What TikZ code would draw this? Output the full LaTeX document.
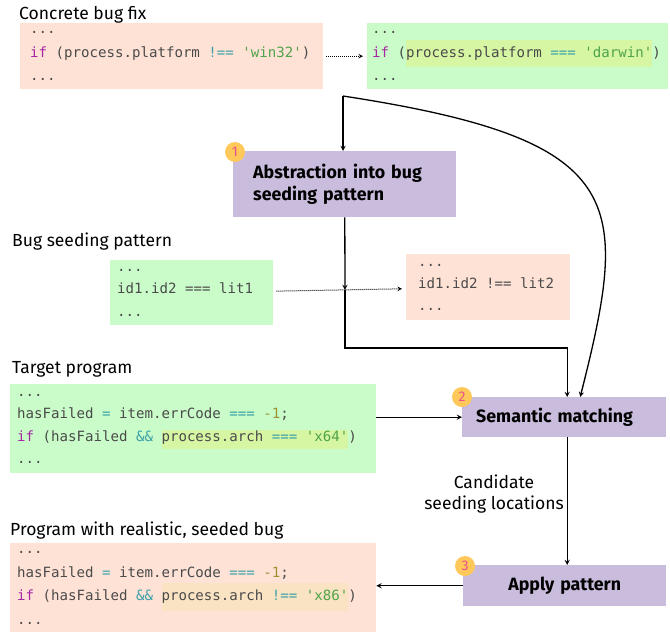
\documentclass[tikz,border=0pt]{standalone}
\usepackage{fontspec}
\setmainfont{Fira Sans}
\setmonofont{DejaVu Sans Mono}
\usetikzlibrary{arrows,positioning}
\definecolor{bugsalmon}{HTML}{FFE2D6}
\definecolor{fixgreen}{HTML}{C9FCC8}
\definecolor{stepviolet}{HTML}{C9BCDC}
\definecolor{hlgreen}{HTML}{D6F6A4}
\definecolor{hlorange}{HTML}{FAE3C2}
\definecolor{badgeorange}{HTML}{FFC85A}
\definecolor{badgepink}{HTML}{F0508A}
\definecolor{codegray}{HTML}{4A4A4A}
\definecolor{kwpurple}{HTML}{A626A4}
\definecolor{opteal}{HTML}{3AA0A8}
\definecolor{strgreen}{HTML}{4FA34A}
\definecolor{numolive}{HTML}{9A9234}
\newcommand\ckw[1]{\textcolor{kwpurple}{#1}}
\newcommand\cop[1]{\textcolor{opteal}{#1}}
\newcommand\cstr[1]{\textcolor{strgreen}{#1}}
\newcommand\cnum[1]{\textcolor{numolive}{#1}}
\newcommand\codespace{\spaceskip 8.5pt\relax\xspaceskip 8.5pt\relax}
% colour, height above baseline, depth below baseline, code
\newcommand\hlcode[4]{\smash{\setlength\fboxsep{0pt}\colorbox{#1}{\rule[-#3]{0pt}{\dimexpr#2+#3\relax}#4}}}
\tikzset
{
    codebox/.style  = {rectangle, anchor=north west, align=flush left, inner ysep=0pt, text=codegray, font=\ttfamily\fontsize{14.1}{#1}\selectfont, execute at begin node=\codespace},
    codebox/.default = 23.5,
    stepbox/.style  = {rectangle, fill=stepviolet, anchor=north west, inner ysep=0pt, font=\bfseries\fontsize{17.8}{22}\selectfont},
    badge/.style    = {circle, fill=badgeorange, text=badgepink, minimum size=20pt, inner sep=0pt, font=\fontsize{14}{14}\selectfont},
    caption/.style  = {anchor=base west, inner sep=0pt, font=\fontsize{17.5}{20}\selectfont},
    arrow/.style    = {->, >=stealth, line width=1.3pt},
    dotarrow/.style = {->, >=stealth, densely dotted, line width=1pt, shorten <=3pt, shorten >=4pt},
}

\begin{document}
\begin{tikzpicture}[x=1pt, y=-1pt]
   \useasboundingbox (0,0) rectangle (670,632);

   % concrete fix
   \node (fixlbl) [caption]                                   at (19,19)    {Concrete bug fix};
   \node (buggy)  [codebox, fill=bugsalmon, inner xsep=10pt, text width=283pt, minimum height=66pt] at (20,23)
      {...\\ \ckw{if} (process.platform \cop{!==} \cstr{'win32'})\\ ...};
   \node (fixed)  [codebox, fill=fixgreen, inner xsep=5pt, text width=291pt, minimum height=66pt]  at (367,23)
      {...\\ \ckw{if} (\hlcode{hlgreen}{17pt}{10pt}{process.platform \cop{===} \cstr{'darwin'}})\\ ...};

   \node (abstr)  [stepbox, inner xsep=20pt, text width=183pt, minimum height=66pt, align=left] at (233,151)
      {Abstraction into bug\\ seeding pattern};
   \node (b1)     [badge] at ([shift={(2,1)}]abstr.north west) {1};

   % pattern
   \node (patlbl) [caption]                                   at (12,246)   {Bug seeding pattern};
   \node (patold) [codebox=22.5, fill=fixgreen, inner xsep=7pt, text width=149pt, minimum height=65pt]   at (110,260)
      {...\\ id1.id2 === lit1\\ ...};
   \node (patnew) [codebox=22, fill=bugsalmon, inner xsep=12pt, text width=140pt, minimum height=66pt] at (406,254)
      {...\\ id1.id2 !== lit2\\ ...};

   % target
   \node (tgtlbl) [caption]                                   at (12,373)   {Target program};
   \node (target) [codebox=22.5, fill=fixgreen, inner xsep=7pt, text width=352pt, minimum height=89pt]  at (10,384)
      {...\\ hasFailed \cop{=} item.errCode \cop{===} \cnum{-1};\\ \ckw{if} (hasFailed \cop{\&\&} \hlcode{hlgreen}{11pt}{8pt}{process.arch \cop{===} \cstr{'x64'}})\\ ...};

   \node (match)  [stepbox, inner xsep=14pt, text width=176pt, minimum height=40pt, align=left] at (462,397)
      {Semantic matching};
   \node (b2)     [badge] at (match.north west) {2};

   \node (cand)   [anchor=east, align=center, inner sep=0pt, font=\fontsize{17.5}{20.5}\selectfont] at (564,494)
      {Candidate\\ seeding locations};

   \node (apply)  [stepbox, inner xsep=14pt, text width=175pt, minimum height=41pt, align=center] at (463,565)
      {Apply pattern};
   \node (b3)     [badge] at ([shift={(2,1)}]apply.north west) {3};

   % seeded
   \node (reslbl) [caption]                                   at (10,535)   {Program with realistic, seeded bug};
   \node (seeded) [codebox, fill=bugsalmon, inner xsep=7pt, text width=352pt, minimum height=89pt] at (10,543)
      {...\\ hasFailed \cop{=} item.errCode \cop{===} \cnum{-1};\\ \ckw{if} (hasFailed \cop{\&\&} \hlcode{hlorange}{18pt}{10pt}{process.arch \cop{!==} \cstr{'x86'}})\\ ...};

   \coordinate (split) at (343,96);
   \coordinate (cross) at (345,290);
   \coordinate (turn)  at (345,348);

   \path
      (buggy)   edge[dotarrow]  node {} (fixed)
      (patold)  edge[dotarrow]  node {} (patnew)
      (split)   edge[arrow]     node {} (split |- abstr.north)
      (abstr)   edge[arrow]     node {} (cross)
      (target.east |- match.west) edge[arrow] node {} (match.west)
      ([xshift=3pt]match.south) edge[arrow] node {} ([xshift=3pt]match.south |- apply.north)
      (apply.west) edge[arrow]  node {} (apply.west -| seeded.east);
   \draw[arrow] (cross) -- (turn) -| ([xshift=3pt]match.north);
   \draw[arrow] (split) .. controls (630,140) and (630,200) .. ([xshift=16pt]match.north);
\end{tikzpicture}
\end{document}
